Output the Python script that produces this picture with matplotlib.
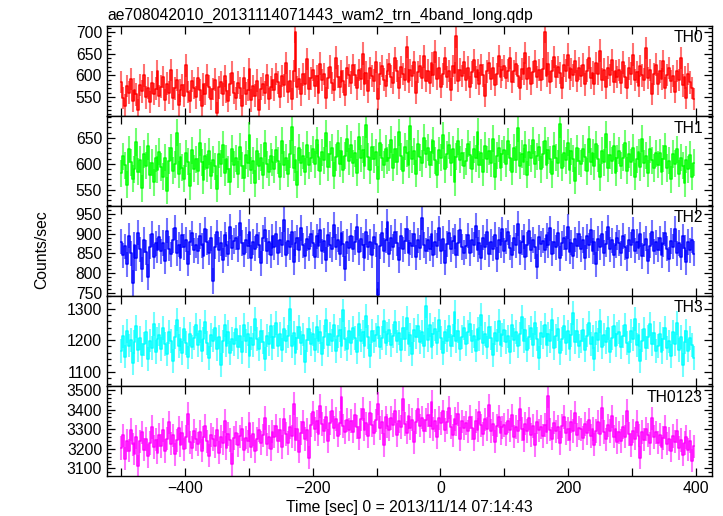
import numpy as np
import matplotlib
matplotlib.use("Agg")
import matplotlib.pyplot as plt
from matplotlib.ticker import MultipleLocator

plt.rcParams['font.family'] = ['Liberation Sans', 'DejaVu Sans']

title = "ae708042010_20131114071443_wam2_trn_4band_long.qdp"
xlabel = "Time [sec] 0 = 2013/11/14 07:14:43"
ylabel = "Counts/sec"
band_names = ["TH0", "TH1", "TH2", "TH3", "TH0123"]
colors = ["#ff0000", "#00ff00", "#0000ff", "#00ffff", "#ff00ff"]

t_start, t_stop, t_bin = -500, 400, 3

th0 = [
    585, 548, 530, 575, 560, 592, 541, 567, 556, 520, 578, 563, 600, 549, 571, 538, 583, 557, 569, 610,
    552, 574, 596, 543, 581, 560, 612, 547, 570, 589, 531, 565, 578, 553, 623, 562, 540, 587, 571, 549,
    593, 566, 528, 580, 557, 601, 574, 545, 568, 590, 512, 572, 584, 556, 598, 563, 541, 579, 606, 560,
    547, 583, 571, 529, 594, 558, 566, 615, 542, 575, 553, 588, 520, 569, 579, 560, 601, 545, 572, 590,
    566, 603, 584, 551, 598, 577, 629, 562, 587, 545, 610, 700, 573, 591, 556, 602, 580, 638, 569, 593,
    612, 575, 598, 560, 627, 589, 603, 548, 594, 620, 582, 566, 641, 597, 573, 609, 586, 555, 618, 600,
    583, 624, 601, 570, 612, 592, 650, 579, 606, 563, 617, 598, 588, 631, 545, 604, 622, 590, 575, 611,
    626, 597, 582, 640, 610, 571, 619, 603, 590, 665, 585, 612, 598, 630, 560, 608, 621, 594, 644, 587,
    611, 583, 628, 600, 655, 592, 617, 574, 603, 639, 596, 610, 567, 622, 605, 690, 588, 613, 598, 630,
    590, 618, 573, 607, 636, 595, 612, 581, 624, 600, 553, 609, 629, 591, 617, 578, 603, 645, 596, 612,
    622, 594, 611, 640, 585, 609, 627, 598, 570, 615, 604, 652, 592, 618, 581, 607, 633, 596, 612, 589,
    615, 700, 598, 627, 584, 610, 642, 597, 619, 605, 571, 623, 611, 648, 593, 614, 600, 632, 587, 616,
    598, 625, 579, 611, 641, 594, 606, 580, 629, 603, 657, 590, 613, 572, 618, 601, 636, 585, 609, 596,
    612, 583, 630, 597, 571, 616, 604, 648, 589, 608, 575, 621, 600, 590, 663, 594, 612, 557, 603, 625,
    580, 609, 592, 633, 571, 601, 617, 586, 598, 562, 610, 589, 640, 577, 595, 548, 603, 584, 571, 545,
]

th1 = [
    582, 615, 597, 560, 628, 603, 571, 590, 642, 585, 608, 553, 619, 596, 634, 578, 602, 565, 611, 589,
    623, 594, 575, 612, 548, 606, 631, 587, 599, 660, 580, 614, 593, 571, 620, 604, 557, 626, 591, 609,
    586, 641, 603, 569, 615, 592, 624, 577, 608, 595, 552, 618, 600, 637, 583, 610, 590, 566, 629, 598,
    611, 580, 633, 596, 572, 617, 601, 655, 588, 606, 563, 624, 595, 612, 578, 640, 599, 584, 615, 603,
    590, 627, 606, 575, 644, 598, 612, 581, 619, 670, 593, 608, 560, 631, 602, 616, 585, 637, 597, 611,
    628, 599, 645, 613, 586, 622, 607, 659, 594, 618, 631, 577, 613, 640, 600, 625, 589, 616, 648, 605,
    637, 601, 620, 583, 652, 611, 627, 596, 675, 614, 588, 633, 609, 622, 570, 641, 612, 598, 629, 606,
    612, 646, 593, 628, 604, 661, 615, 587, 633, 620, 598, 672, 609, 624, 581, 639, 613, 601, 650, 619,
    631, 598, 622, 644, 607, 579, 626, 612, 655, 590, 618, 636, 602, 628, 565, 614, 643, 608, 621, 596,
    605, 639, 617, 590, 628, 611, 662, 598, 621, 584, 635, 609, 624, 601, 648, 575, 616, 630, 593, 619,
    627, 600, 643, 612, 585, 631, 608, 668, 596, 619, 604, 637, 579, 622, 611, 645, 599, 615, 632, 590,
    618, 644, 597, 626, 609, 580, 635, 612, 601, 676, 593, 620, 607, 641, 588, 624, 610, 568, 630, 605,
    600, 629, 613, 586, 647, 604, 621, 595, 638, 610, 574, 625, 603, 657, 592, 617, 606, 634, 583, 611,
    625, 596, 612, 640, 587, 618, 603, 631, 575, 609, 622, 594, 648, 601, 616, 582, 628, 607, 592, 620,
    598, 621, 585, 610, 634, 592, 606, 570, 619, 600, 628, 581, 612, 596, 563, 608, 590, 617, 575, 602,
]

th2 = [
    880, 845, 868, 822, 895, 850, 775, 871, 838, 902, 860, 810, 884, 853, 790, 867, 899, 842, 875, 858,
    891, 855, 876, 830, 907, 862, 848, 883, 915, 851, 872, 837, 896, 866, 885, 824, 878, 901, 858, 870,
    856, 894, 870, 843, 911, 879, 852, 888, 780, 867, 903, 859, 875, 832, 897, 872, 849, 918, 864, 881,
    890, 861, 927, 876, 848, 884, 868, 905, 838, 879, 862, 896, 871, 825, 889, 910, 856, 878, 845, 893,
    865, 899, 852, 884, 872, 935, 847, 881, 866, 903, 828, 875, 890, 859, 914, 870, 843, 887, 862, 898,
    876, 842, 893, 869, 908, 855, 882, 834, 897, 871, 860, 922, 866, 885, 849, 901, 874, 811, 880, 863,
    895, 861, 878, 917, 853, 886, 870, 838, 904, 865, 879, 846, 892, 873, 745, 868, 901, 857, 883, 930,
    848, 889, 866, 905, 875, 833, 894, 860, 881, 912, 851, 877, 869, 898, 840, 883, 864, 940, 871, 856,
    885, 862, 899, 847, 878, 869, 913, 855, 887, 826, 874, 902, 860, 881, 893, 845, 876, 908, 866, 852,
    868, 896, 851, 883, 872, 920, 859, 877, 839, 890, 866, 904, 848, 879, 862, 897, 835, 884, 871, 911,
    857, 881, 903, 864, 846, 889, 870, 925, 852, 878, 893, 841, 872, 906, 859, 884, 867, 816, 891, 874,
    882, 858, 896, 871, 913, 849, 880, 865, 901, 837, 875, 890, 862, 918, 854, 877, 843, 886, 869, 899,
    861, 884, 839, 893, 870, 908, 856, 878, 822, 887, 865, 899, 851, 874, 916, 860, 883, 845, 871, 890,
    876, 850, 894, 866, 838, 885, 871, 909, 857, 880, 864, 898, 843, 872, 887, 830, 869, 903, 855, 878,
    859, 888, 846, 873, 901, 862, 835, 881, 867, 912, 850, 876, 841, 893, 864, 827, 879, 858, 884, 849,
]

th3 = [
    1165, 1212, 1148, 1230, 1183, 1201, 1126, 1195, 1244, 1170, 1208, 1152, 1187, 1225, 1139, 1199, 1176, 1251, 1162, 1204,
    1218, 1173, 1240, 1189, 1156, 1227, 1198, 1135, 1210, 1266, 1181, 1203, 1160, 1235, 1192, 1145, 1221, 1178, 1207, 1250,
    1184, 1229, 1167, 1205, 1259, 1190, 1142, 1216, 1199, 1238, 1171, 1211, 1120, 1196, 1247, 1183, 1226, 1158, 1203, 1188,
    1235, 1179, 1212, 1161, 1249, 1197, 1221, 1150, 1208, 1185, 1268, 1203, 1172, 1230, 1194, 1140, 1215, 1189, 1245, 1176,
    1209, 1255, 1183, 1220, 1168, 1237, 1196, 1212, 1300, 1180, 1224, 1159, 1206, 1243, 1191, 1218, 1132, 1201, 1236, 1187,
    1219, 1170, 1241, 1198, 1226, 1155, 1210, 1264, 1186, 1221, 1199, 1247, 1165, 1212, 1232, 1180, 1295, 1204, 1173, 1228,
    1190, 1238, 1207, 1163, 1252, 1199, 1225, 1182, 1276, 1211, 1149, 1230, 1196, 1216, 1242, 1178, 1208, 1260, 1191, 1220,
    1231, 1185, 1214, 1258, 1196, 1222, 1170, 1240, 1203, 1271, 1188, 1217, 1156, 1232, 1209, 1246, 1193, 1225, 1180, 1310,
    1202, 1249, 1177, 1219, 1236, 1191, 1263, 1208, 1160, 1227, 1199, 1244, 1183, 1215, 1290, 1196, 1229, 1171, 1211, 1238,
    1188, 1226, 1253, 1196, 1214, 1167, 1235, 1205, 1282, 1190, 1220, 1177, 1243, 1208, 1152, 1224, 1199, 1261, 1185, 1216,
    1231, 1194, 1212, 1163, 1247, 1201, 1226, 1180, 1219, 1273, 1197, 1233, 1170, 1210, 1240, 1186, 1255, 1205, 1143, 1222,
    1210, 1249, 1184, 1221, 1198, 1266, 1176, 1213, 1237, 1158, 1205, 1244, 1191, 1228, 1172, 1216, 1286, 1195, 1230, 1181,
    1196, 1232, 1168, 1215, 1254, 1187, 1209, 1141, 1224, 1201, 1262, 1179, 1218, 1193, 1239, 1164, 1206, 1245, 1183, 1220,
    1225, 1177, 1212, 1248, 1190, 1161, 1230, 1203, 1267, 1184, 1216, 1135, 1199, 1236, 1174, 1209, 1251, 1188, 1222, 1166,
    1181, 1219, 1162, 1204, 1238, 1175, 1196, 1150, 1227, 1189, 1255, 1170, 1210, 1121, 1193, 1229, 1167, 1208, 1184, 1142,
]

th0123 = [
    3205, 3268, 3150, 3241, 3190, 3297, 3222, 3175, 3260, 3110, 3238, 3284, 3196, 3251, 3163, 3229, 3312, 3208, 3247, 3180,
    3271, 3214, 3296, 3189, 3252, 3335, 3226, 3268, 3171, 3243, 3305, 3218, 3280, 3197, 3260, 3379, 3233, 3206, 3291, 3248,
    3224, 3287, 3190, 3258, 3316, 3237, 3165, 3270, 3249, 3212, 3298, 3180, 3262, 3230, 3341, 3205, 3276, 3245, 3120, 3255,
    3281, 3219, 3263, 3302, 3196, 3257, 3238, 3329, 3211, 3274, 3186, 3250, 3295, 3229, 3268, 3357, 3222, 3259, 3200, 3287,
    3262, 3318, 3240, 3295, 3210, 3350, 3276, 3228, 3310, 3263, 3430, 3247, 3302, 3185, 3280, 3336, 3251, 3297, 3155, 3320,
    3385, 3302, 3340, 3276, 3418, 3325, 3291, 3360, 3240, 3331, 3395, 3308, 3352, 3267, 3330, 3462, 3315, 3286, 3347, 3298,
    3341, 3287, 3372, 3310, 3255, 3350, 3403, 3298, 3329, 3264, 3381, 3320, 3279, 3345, 3430, 3306, 3337, 3218, 3360, 3315,
    3298, 3356, 3321, 3392, 3270, 3340, 3310, 3455, 3327, 3282, 3368, 3305, 3349, 3233, 3336, 3401, 3318, 3359, 3290, 3346,
    3372, 3315, 3440, 3302, 3343, 3261, 3357, 3329, 3390, 3296, 3335, 3410, 3312, 3268, 3351, 3324, 3378, 3250, 3340, 3306,
    3330, 3288, 3362, 3307, 3248, 3341, 3296, 3385, 3319, 3275, 3350, 3302, 3421, 3290, 3327, 3236, 3318, 3364, 3281, 3309,
    3322, 3276, 3341, 3295, 3370, 3262, 3311, 3288, 3402, 3300, 3243, 3328, 3290, 3355, 3271, 3315, 3218, 3337, 3294, 3310,
    3265, 3320, 3285, 3470, 3298, 3252, 3333, 3289, 3310, 3230, 3315, 3362, 3281, 3301, 3247, 3338, 3290, 3384, 3270, 3306,
    3299, 3255, 3327, 3280, 3348, 3266, 3301, 3221, 3290, 3336, 3274, 3410, 3285, 3248, 3319, 3290, 3365, 3262, 3300, 3233,
    3283, 3240, 3311, 3262, 3395, 3275, 3220, 3290, 3252, 3338, 3267, 3155, 3285, 3246, 3302, 3270, 3227, 3355, 3260, 3284,
    3231, 3272, 3208, 3255, 3310, 3226, 3249, 3190, 3264, 3236, 3290, 3203, 3245, 3170, 3228, 3261, 3195, 3238, 3140, 3212,
]

errors = [26, 26, 32, 38, 60]
series = [th0, th1, th2, th3, th0123]

ylims = [(506, 714), (519, 692), (742, 970), (1054, 1341), (3061, 3520)]
ymajor = [50, 50, 50, 100, 100]
yminor = [10, 10, 10, 20, 20]

W, H = 723, 516
fig = plt.figure(figsize=(W / 100, H / 100), dpi=100)

left_px, right_px, top_px, bottom_px = 107, 712, 26, 476
ph = (bottom_px - top_px) / 5

t = np.arange(t_start, t_stop, t_bin)
FS = 11.3

axes = []
for k, (vals, c, err, name) in enumerate(zip(series, colors, errors, band_names)):
    y0 = top_px + k * ph
    ax = fig.add_axes([left_px / W, 1 - (y0 + ph) / H, (right_px - left_px) / W, ph / H])
    v = np.asarray(vals, dtype=float)
    ax.errorbar(t, v, yerr=err, fmt='none', ecolor=c, alpha=0.55, elinewidth=1.5)
    ax.step(t, v, where='mid', color=c, lw=1.1)
    ax.set_xlim(-522, 425)
    ax.set_ylim(*ylims[k])
    ax.xaxis.set_major_locator(MultipleLocator(200))
    ax.xaxis.set_minor_locator(MultipleLocator(100))
    ax.yaxis.set_major_locator(MultipleLocator(ymajor[k]))
    ax.yaxis.set_minor_locator(MultipleLocator(yminor[k]))
    ax.tick_params(which='both', direction='in', top=True, right=True, labelsize=FS, width=0.9)
    ax.tick_params(which='major', length=6)
    ax.tick_params(axis='y', which='minor', length=3)
    ax.tick_params(axis='x', which='minor', length=6)
    for s in ax.spines.values():
        s.set_linewidth(1.0)
    if k < 4:
        ax.tick_params(labelbottom=False)
    ax.text(0.985, 0.95, name, transform=ax.transAxes, ha='right', va='top', fontsize=FS)
    axes.append(ax)

axes[0].text(0.0, 1.035, title, transform=axes[0].transAxes, ha='left', va='bottom', fontsize=FS)
axes[-1].set_xlabel(xlabel, fontsize=FS, labelpad=3)
fig.text(42 / W, 1 - 250 / H, ylabel, rotation=90, ha='center', va='center', fontsize=FS)

fig.savefig("out.png", dpi=100)
